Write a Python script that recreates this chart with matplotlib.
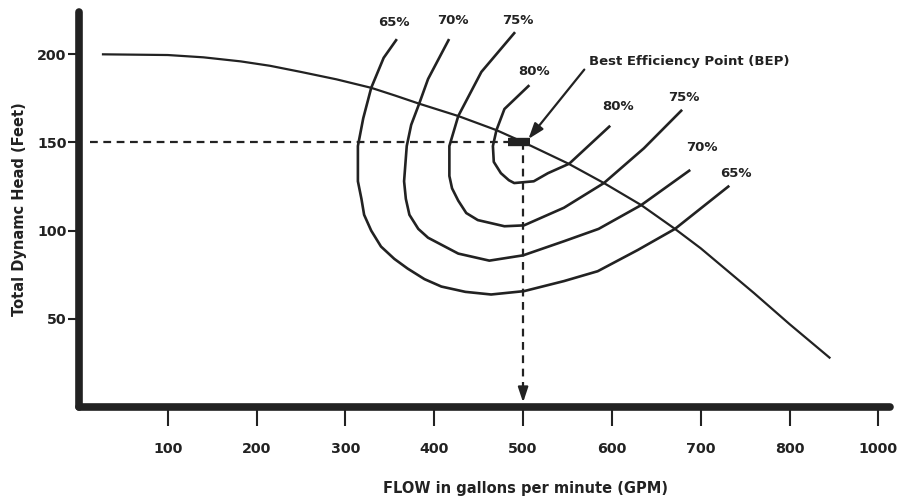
import matplotlib
matplotlib.use('Agg')
import matplotlib.pyplot as plt

# pump curve (GPM, head in feet)
pump_flow = [27, 100, 140, 182, 215, 250, 290, 329, 356, 383, 427, 470, 501, 551, 591, 633, 671, 700, 760, 800, 845]
pump_head = [200, 199.6, 198.3, 196, 193.5, 190, 185.8, 181, 176.6, 172, 165, 157, 150, 138, 127, 114.5, 101, 90, 64.6, 47, 28]

# efficiency contours
eff65_flow = [357, 343, 329, 320, 314, 314, 318, 321, 329, 340, 355, 370, 389, 408, 435, 464, 501, 546, 584, 629, 671, 731]
eff65_head = [208, 198, 181, 163.7, 148, 128, 118, 109, 100, 91, 84, 78.5, 72.5, 68.3, 65.3, 63.8, 65.7, 71.4, 77, 89, 101, 125]
eff70_flow = [416, 393, 383, 374, 369, 366, 368, 372, 382, 393, 427, 462, 500, 546, 585, 633, 687]
eff70_head = [208, 186, 172, 160, 148, 128, 118, 109, 101, 96, 87, 83, 86, 94, 101, 114.5, 134]
eff75_flow = [490, 453, 427, 417, 417, 420, 427, 436, 449, 479, 501, 546, 591, 636, 678]
eff75_head = [212, 190, 165, 148, 131, 124, 117, 110, 106, 102.5, 103, 113, 127, 146.7, 168]
eff80_flow = [506, 479, 470, 466, 467, 475, 484, 490, 512, 528, 552, 597]
eff80_head = [182, 169, 157, 148, 139, 132.6, 128.6, 127, 128, 132.6, 138, 159]

contour_labels = ['65%', '70%', '75%', '80%', '80%', '75%', '70%', '65%']
label_flow = [355, 421, 494, 512, 607, 681, 701, 740]
label_head = [218, 219, 219, 190, 170.5, 175.6, 147, 132.6]

bep_flow, bep_head = 500, 150
bep_text_flow, bep_text_head = 574, 196

xtick_pos = [100, 200, 300, 400, 500, 600, 700, 800, 900]
xtick_labels = ['100', '200', '300', '400', '500', '600', '700', '800', '1000']
ytick_pos = [50, 100, 150, 200]

ink = '#222222'
plt.rcParams['font.family'] = ['DejaVu Sans']

fig = plt.figure(figsize=(9.03, 5.0), dpi=100)
ax = fig.add_axes([0.0875, 0.186, 0.898, 0.79])
ax.set_xlim(0, 913)
ax.set_ylim(0, 224)

lw = 1.6
ax.plot(pump_flow, pump_head, color=ink, lw=lw)
for fx, hy in [(eff65_flow, eff65_head), (eff70_flow, eff70_head),
               (eff75_flow, eff75_head), (eff80_flow, eff80_head)]:
    ax.plot(fx, hy, color=ink, lw=lw + 0.3, solid_joinstyle='round')

for t, x, y in zip(contour_labels, label_flow, label_head):
    ax.text(x, y, t, ha='center', va='center', fontsize=9.5, fontweight='bold', color=ink)

# operating point guide lines
ax.plot([12, bep_flow - 15], [bep_head, bep_head], color=ink, lw=1.6, ls=(0, (3.5, 2.5)))
ax.plot([bep_flow, bep_flow], [bep_head, 12], color=ink, lw=1.6, ls=(0, (3.5, 2.5)))
ax.annotate('', xy=(bep_flow, 1), xytext=(bep_flow, 12),
            arrowprops=dict(arrowstyle='-|>,head_length=0.9,head_width=0.3', color=ink, lw=1.6))

# BEP marker
ax.plot([bep_flow - 17, bep_flow + 8], [bep_head, bep_head], color=ink, lw=6, solid_capstyle='butt')

ax.annotate('Best Efficiency Point (BEP)', xy=(bep_flow + 6, bep_head + 2),
            xytext=(bep_text_flow, bep_text_head), ha='left', va='center',
            fontsize=9.5, fontweight='bold', color=ink,
            arrowprops=dict(arrowstyle='-|>,head_length=1.0,head_width=0.35', color=ink, lw=1.6,
                            shrinkA=2, shrinkB=0, relpos=(0, 0.3)))

ax.spines['top'].set_visible(False)
ax.spines['right'].set_visible(False)
for s in ['left', 'bottom']:
    ax.spines[s].set_linewidth(5.5)
    ax.spines[s].set_color(ink)
    ax.spines[s].set_capstyle('round')

ax.set_xticks(xtick_pos)
ax.set_xticklabels(xtick_labels)
ax.set_yticks(ytick_pos)
ax.tick_params(axis='x', length=14, width=1.5, pad=11, color=ink, labelsize=10.3, labelcolor=ink)
ax.tick_params(axis='y', length=8, width=1.5, pad=1, color=ink, labelsize=10.3, labelcolor=ink)
for lab in ax.get_xticklabels() + ax.get_yticklabels():
    lab.set_fontweight('bold')

fig.text(526 / 903, 1 - 488 / 500, 'FLOW in gallons per minute (GPM)', ha='center', va='center',
         fontsize=10.5, fontweight='bold', color=ink)
fig.text(20 / 903, 1 - 209 / 500, 'Total Dynamc Head (Feet)', ha='center', va='center',
         rotation=90, fontsize=10.5, fontweight='bold', color=ink)

fig.savefig('out.png', dpi=100, facecolor='white')
